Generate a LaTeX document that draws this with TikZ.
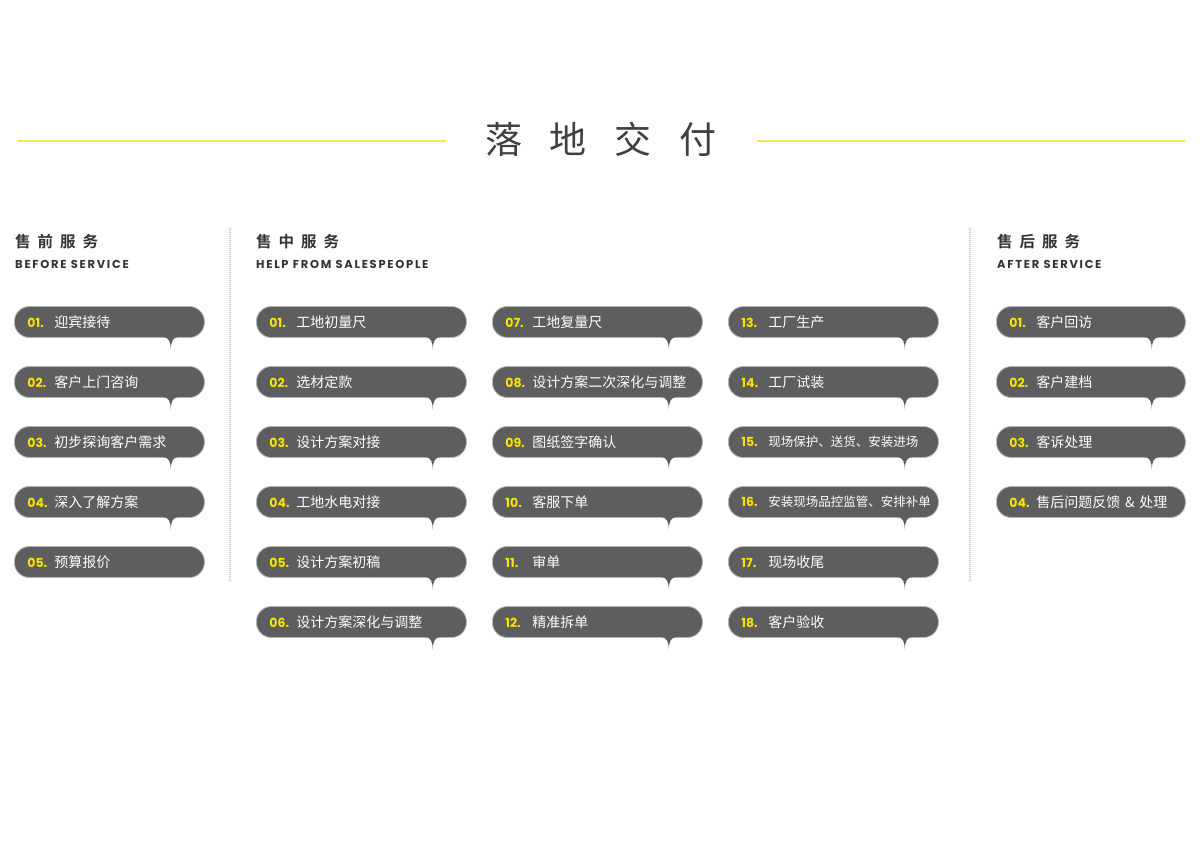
\documentclass[tikz,border=0pt]{standalone}
\usepackage{fontspec}
\setmainfont{Poppins}
\newfontfamily\cjk[BoldFont={Noto Sans CJK SC Bold}]{Noto Sans CJK SC}
\newfontfamily\cjkhead[LetterSpace=45]{Noto Sans CJK SC Bold}
\newfontfamily\enghead[LetterSpace=15]{Poppins}
\usetikzlibrary{positioning,calc}
\definecolor{pillgray}{RGB}{94,93,95}
\definecolor{rimgray}{RGB}{180,180,180}
\definecolor{numyellow}{RGB}{250,226,0}
\definecolor{lineyellow}{RGB}{246,234,70}
\definecolor{headgray}{RGB}{51,51,51}
\definecolor{titlegray}{RGB}{64,64,64}
\definecolor{sepgray}{RGB}{205,205,205}
\tikzset{
        x=1pt, y=-1pt, % one unit per pixel, downwards
        every node/.style={inner sep=0pt},
    }
\tikzstyle{pill}=[draw=rimgray,line width=0.8pt,fill=pillgray,rounded corners=15pt,minimum height=31pt,inner xsep=13pt,anchor=west,align=left,text=white,font=\cjk\fontsize{14}{16}\selectfont]
\tikzstyle{tail}=[fill=pillgray]
\tikzstyle{headcn}=[anchor=base west,text=headgray,font=\cjkhead\fontsize{15.5}{18}\selectfont]
\tikzstyle{headen}=[anchor=base west,text=headgray,font=\enghead\bfseries\fontsize{11.5}{13}\selectfont]
\tikzstyle{goldline}=[lineyellow,line width=1.6pt]
\tikzstyle{sepline}=[sepgray,line width=2pt,dash pattern=on 1pt off 1pt]
\newcommand{\num}[1]{\makebox[27pt][l]{\normalfont\bfseries\fontsize{12.5}{14}\selectfont\color{numyellow}#1}}
\newcommand{\sml}[1]{{\fontsize{12.5}{14}\selectfont #1}}
\newcommand{\spike}[1]{%
  \coordinate (#1-tip) at ($(#1.south east)+(-34,12)$);
  \fill[tail] ($(#1.south east)+(-42,-1)$) .. controls ($(#1.south east)+(-36,-1)$) and ($(#1.south east)+(-34,4)$) .. (#1-tip)
    .. controls ($(#1.south east)+(-34,4)$) and ($(#1.south east)+(-32,-1)$) .. ($(#1.south east)+(-26,-1)$) -- cycle;}

\begin{document}
\begin{tikzpicture}
    \useasboundingbox[fill=white] (0,0) rectangle (1200,843);
    % title
    \node[text=titlegray,font=\cjk\fontsize{37}{40}\selectfont] (title) at (601,139)
        {落\hspace{28pt}地\hspace{28pt}交\hspace{28pt}付};
    \coordinate (goldA) at (17,141);
    \coordinate (goldB) at (446,141);
    \coordinate (goldC) at (757,141);
    \coordinate (goldD) at (1185,141);
    \draw[goldline] (goldA) -- (goldB);
    \draw[goldline] (goldC) -- (goldD);
    % separators
    \coordinate (sepA) at (230,228);
    \coordinate (sepB) at (230,582);
    \coordinate (sepC) at (970,228);
    \coordinate (sepD) at (970,582);
    \draw[sepline] (sepA) -- (sepB);
    \draw[sepline] (sepC) -- (sepD);
    % headers
    \node[headcn] (prehead) at (15,247) {售前服务};
    \node[headen] (preeng) at (15,268) {BEFORE SERVICE};
    \node[headcn] (midhead) at (256,247) {售中服务};
    \node[headen] (mideng) at (256,268) {HELP FROM SALESPEOPLE};
    \node[headcn] (posthead) at (997,247) {售后服务};
    \node[headen] (posteng) at (997,268) {AFTER SERVICE};
    % before service
    \foreach \n/\lab [count=\i] in {01/迎宾接待,02/客户上门咨询,03/初步探询客户需求,04/深入了解方案,05/预算报价} {
        \node[pill,text width=164pt] (pre\i) at (14,262+60*\i) {\num{\n.}\lab};
        \ifnum\i<5 \spike{pre\i} \fi
    }
    % help from salespeople
    \foreach \n/\lab [count=\i] in {01/工地初量尺,02/选材定款,03/设计方案对接,04/工地水电对接,05/设计方案初稿,06/设计方案深化与调整,
        07/工地复量尺,08/设计方案二次深化与调整,09/图纸签字确认,10/客服下单,11/审单,12/精准拆单,
        13/工厂生产,14/工厂试装,15/\sml{现场保护、送货、安装进场},16/\sml{安装现场品控监管、安排补单},17/现场收尾,18/客户验收} {
        \pgfmathtruncatemacro\col{(\i-1)/6}
        \pgfmathtruncatemacro\row{mod(\i-1,6)}
        \node[pill,text width=184pt] (mid\i) at (256+236*\col,322+60*\row) {\num{\n.}\lab};
        \spike{mid\i}
    }
    % after service
    \foreach \n/\lab [count=\i] in {01/客户回访,02/客户建档,03/客诉处理,04/售后问题反馈 \& 处理} {
        \node[pill,text width=163pt] (post\i) at (996,262+60*\i) {\num{\n.}\lab};
        \ifnum\i<4 \spike{post\i} \fi
    }
\end{tikzpicture}
\end{document}
